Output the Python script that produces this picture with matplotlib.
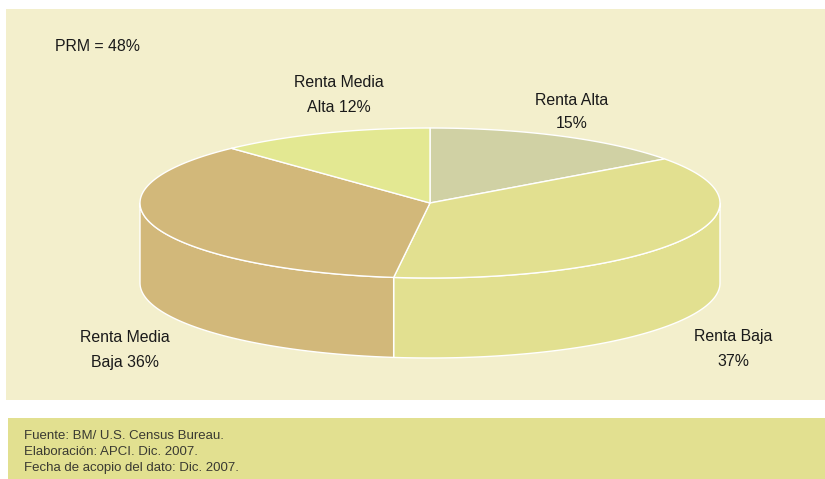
import numpy as np
import matplotlib as mpl
import matplotlib.pyplot as plt
from matplotlib.patches import Polygon, Rectangle

mpl.rcParams.update({
    "font.family": ["Liberation Sans", "DejaVu Sans"],
})

# --- Chart data ---
labels = ["Renta Alta", "Renta Baja", "Renta Media Baja", "Renta Media Alta"]
shares = [15, 37, 36, 12]
colors = ["#D0D1A4", "#E2E090", "#D2B87A", "#E3E892"]
prm_text = "PRM = 48%"
label_texts = ["Renta Alta\n15%", "Renta Baja\n37%", "Renta Media\nBaja 36%", "Renta Media\nAlta 12%"]
source_lines = [
    "Fuente: BM/ U.S. Census Bureau.",
    "Elaboración: APCI. Dic. 2007.",
    "Fecha de acopio del dato: Dic. 2007.",
]

# layout, in pixels of the 825x479 picture
CX, CY = 430, 203
RX, RY = 290, 75
DEPTH = 80
label_pos = [(572, 112), (733.5, 349), (125, 350), (339, 95)]
label_spacing = [1.72, 1.85, 1.85, 1.85]

BG_PANEL = "#F3EFCC"
BG_SOURCE = "#E2E090"


def rim(a0, a1, dy=0.0):
    # angles in degrees, clockwise from 12 o'clock
    t = np.radians(np.linspace(a0, a1, max(int(abs(a1 - a0)) * 2, 2)))
    return np.column_stack([CX + RX * np.sin(t), CY + dy - RY * np.cos(t)])


fig = plt.figure(figsize=(8.25, 4.79), dpi=100)
ax = fig.add_axes([0, 0, 1, 1])
ax.set_xlim(0, 825)
ax.set_ylim(479, 0)
ax.axis("off")

ax.add_patch(Rectangle((6, 9), 819, 391, fc=BG_PANEL, ec="none"))
ax.add_patch(Rectangle((8, 418), 817, 61, fc=BG_SOURCE, ec="none"))

edges = np.concatenate([[0], np.cumsum(shares)]) * 3.6

# side walls: only the front half of the pie (90 to 270 degrees) shows
for i, col in enumerate(colors):
    a0, a1 = max(edges[i], 90), min(edges[i + 1], 270)
    if a1 <= a0:
        continue
    top = rim(a0, a1)
    bottom = rim(a0, a1, DEPTH)
    ax.add_patch(Polygon(np.vstack([top, bottom[::-1]]), closed=True, fc=col,
                         ec="white", lw=1.0, joinstyle="round", zorder=2))

# top face
for i, col in enumerate(colors):
    arc = rim(edges[i], edges[i + 1])
    ax.add_patch(Polygon(np.vstack([[CX, CY], arc]), closed=True, fc=col,
                         ec="white", lw=1.0, joinstyle="round", zorder=3))

for txt, (x, y), sp in zip(label_texts, label_pos, label_spacing):
    ax.text(x, y, txt, ha="center", va="center", fontsize=11.4, color="#1a1a1a",
            linespacing=sp, zorder=4)

ax.text(55, 46, prm_text, ha="left", va="center", fontsize=11.4, color="#1a1a1a")

for line, y in zip(source_lines, [436, 452, 468]):
    ax.text(24, y, line, ha="left", va="center", fontsize=9.5, color="#3a3a32")

fig.savefig("out.png", dpi=100)
